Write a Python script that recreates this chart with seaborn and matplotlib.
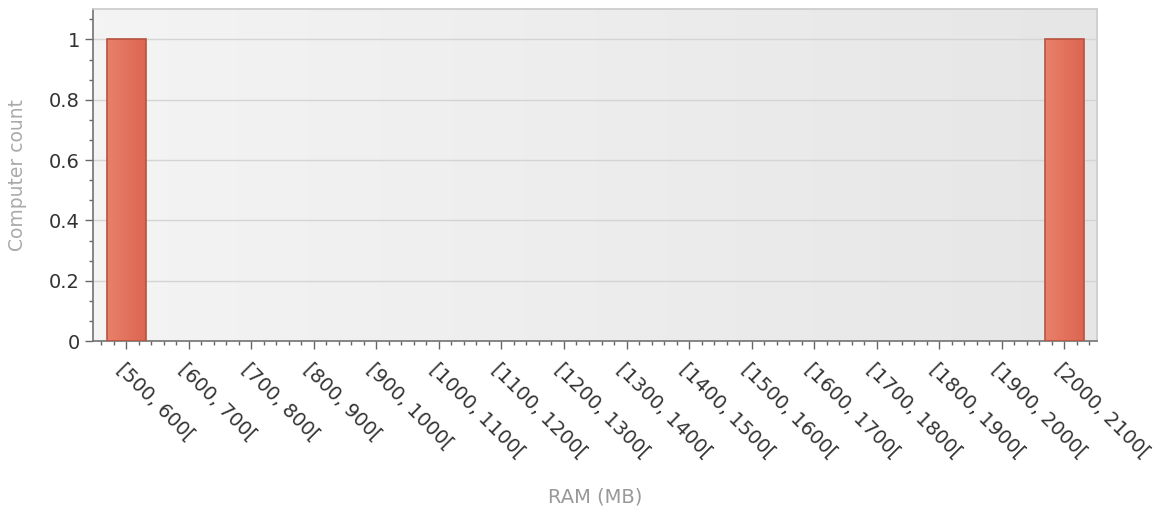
import numpy as np
import pandas as pd
import seaborn as sns
import matplotlib.pyplot as plt
from matplotlib.colors import LinearSegmentedColormap
from matplotlib.ticker import AutoMinorLocator, MultipleLocator

bins = ["[500, 600[", "[600, 700[", "[700, 800[", "[800, 900[", "[900, 1000[",
        "[1000, 1100[", "[1100, 1200[", "[1200, 1300[", "[1300, 1400[", "[1400, 1500[",
        "[1500, 1600[", "[1600, 1700[", "[1700, 1800[", "[1800, 1900[", "[1900, 2000[",
        "[2000, 2100["]
counts = [1, 0, 0, 0, 0, 0, 0, 0, 0, 0, 0, 0, 0, 0, 0, 1]
y_ticks = [0, 0.2, 0.4, 0.6, 0.8, 1]
y_ticklabels = ["0", "0.2", "0.4", "0.6", "0.8", "1"]

df = pd.DataFrame({"RAM": bins, "Count": counts})

sns.set_theme(style="white")
plt.rcParams['font.family'] = ['DejaVu Sans']

fig = plt.figure(figsize=(11.62, 5.13), dpi=100)
ax = fig.add_axes([0.080, 0.335, 0.864, 0.647])

# soft gradient background like the original
grad = np.linspace(0, 1, 256).reshape(1, -1)
bg_cmap = LinearSegmentedColormap.from_list("bg", ["#F4F4F4", "#E6E6E6"])
ax.imshow(grad, extent=[0, 1, 0, 1], transform=ax.transAxes, aspect='auto',
          cmap=bg_cmap, zorder=0)

sns.barplot(data=df, x="RAM", y="Count", color="#E3735D", width=0.62,
            edgecolor="#B9523F", linewidth=1.2, saturation=1, ax=ax, zorder=3)

# horizontal shading inside the bars, empty bins get no edge line
bar_cmap = LinearSegmentedColormap.from_list("bar", ["#E9806A", "#DC6651"])
for patch in list(ax.patches):
    if patch.get_height() == 0:
        patch.set_linewidth(0)
        continue
    x0, y0 = patch.get_x(), patch.get_y()
    im = ax.imshow(grad, extent=[x0, x0 + patch.get_width(), y0, y0 + patch.get_height()],
                   aspect='auto', cmap=bar_cmap, zorder=2.9)
    im.set_clip_path(patch)
    patch.set_facecolor('none')

ax.set_xlim(-0.53, 15.52)
ax.set_ylim(0, 1.1)
ax.set_yticks(y_ticks)
ax.set_yticklabels(y_ticklabels, fontsize=14, color="#333333")
ax.yaxis.set_minor_locator(AutoMinorLocator(3))
ax.xaxis.set_minor_locator(MultipleLocator(0.2))
ax.set_xticks(range(len(bins)))
ax.set_xticklabels(bins, rotation=-45, ha='left', va='top', rotation_mode='anchor',
                   fontsize=14, color="#333333")
ax.grid(axis='y', color="#D4D4D4", linewidth=1, zorder=1)
ax.set_axisbelow(True)

ax.tick_params(axis='both', which='major', direction='out', length=6, width=1, color="#666666", left=True, bottom=True)
ax.tick_params(axis='both', which='minor', direction='out', length=3, width=1, color="#666666", left=True, bottom=True)
ax.tick_params(axis='x', which='major', pad=7)

for side in ['top', 'right']:
    ax.spines[side].set_color("#CCCCCC")
for side in ['left', 'bottom']:
    ax.spines[side].set_color("#777777")

ax.set_ylabel("Computer count", fontsize=13.5, color="#AAAAAA")
ax.yaxis.set_label_coords(-0.066, 0.5)
ax.set_xlabel("RAM (MB)", fontsize=14, color="#999999")
ax.xaxis.set_label_coords(0.5, -0.44)

fig.savefig("out.png", dpi=100)
